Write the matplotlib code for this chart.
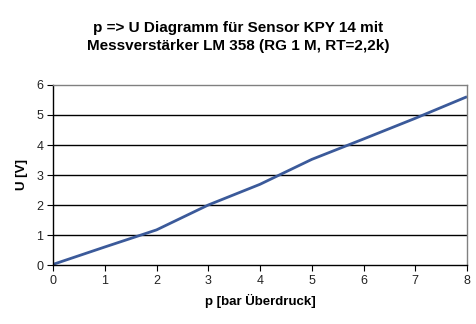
import matplotlib.pyplot as plt

# data
p = [0, 1, 2, 3, 4, 5, 6, 7, 8]
U = [0.02, 0.6, 1.17, 2.0, 2.69, 3.52, 4.2, 4.89, 5.61]
xticks = [0, 1, 2, 3, 4, 5, 6, 7, 8]
yticks = [0, 1, 2, 3, 4, 5, 6]

plt.rcParams['font.family'] = ['Liberation Sans', 'DejaVu Sans']

fig = plt.figure(figsize=(4.77, 3.24), dpi=100)
ax = fig.add_axes([53/477, 59/324, 414/477, 180/324])

ax.plot(p, U, color='#3b5a9a', lw=2.0, solid_capstyle='butt')
ax.set_xlim(0, 8)
ax.set_ylim(0, 6)
ax.set_xticks(xticks)
ax.set_yticks(yticks)
ax.tick_params(labelsize=9, length=4, width=0.8, color='black', pad=3, labelcolor='#222222')
for y in yticks[1:-1]:
    ax.axhline(y, color='black', lw=1, zorder=0)
for s in ['top', 'right']:
    ax.spines[s].set_color('#808080')
    ax.spines[s].set_linewidth(1)
for s in ['left', 'bottom']:
    ax.spines[s].set_color('black')
    ax.spines[s].set_linewidth(1)

ax.set_xlabel('p [bar Überdruck]', fontsize=9.5, fontweight='bold', labelpad=5)
ax.set_ylabel('U [V]', fontsize=9.5, fontweight='bold', labelpad=6)
fig.suptitle('p => U Diagramm für Sensor KPY 14 mit\nMessverstärker LM 358 (RG 1 M, RT=2,2k)',
             fontsize=11, fontweight='bold', y=0.935, linespacing=1.4)

fig.savefig('out.png', dpi=100)
